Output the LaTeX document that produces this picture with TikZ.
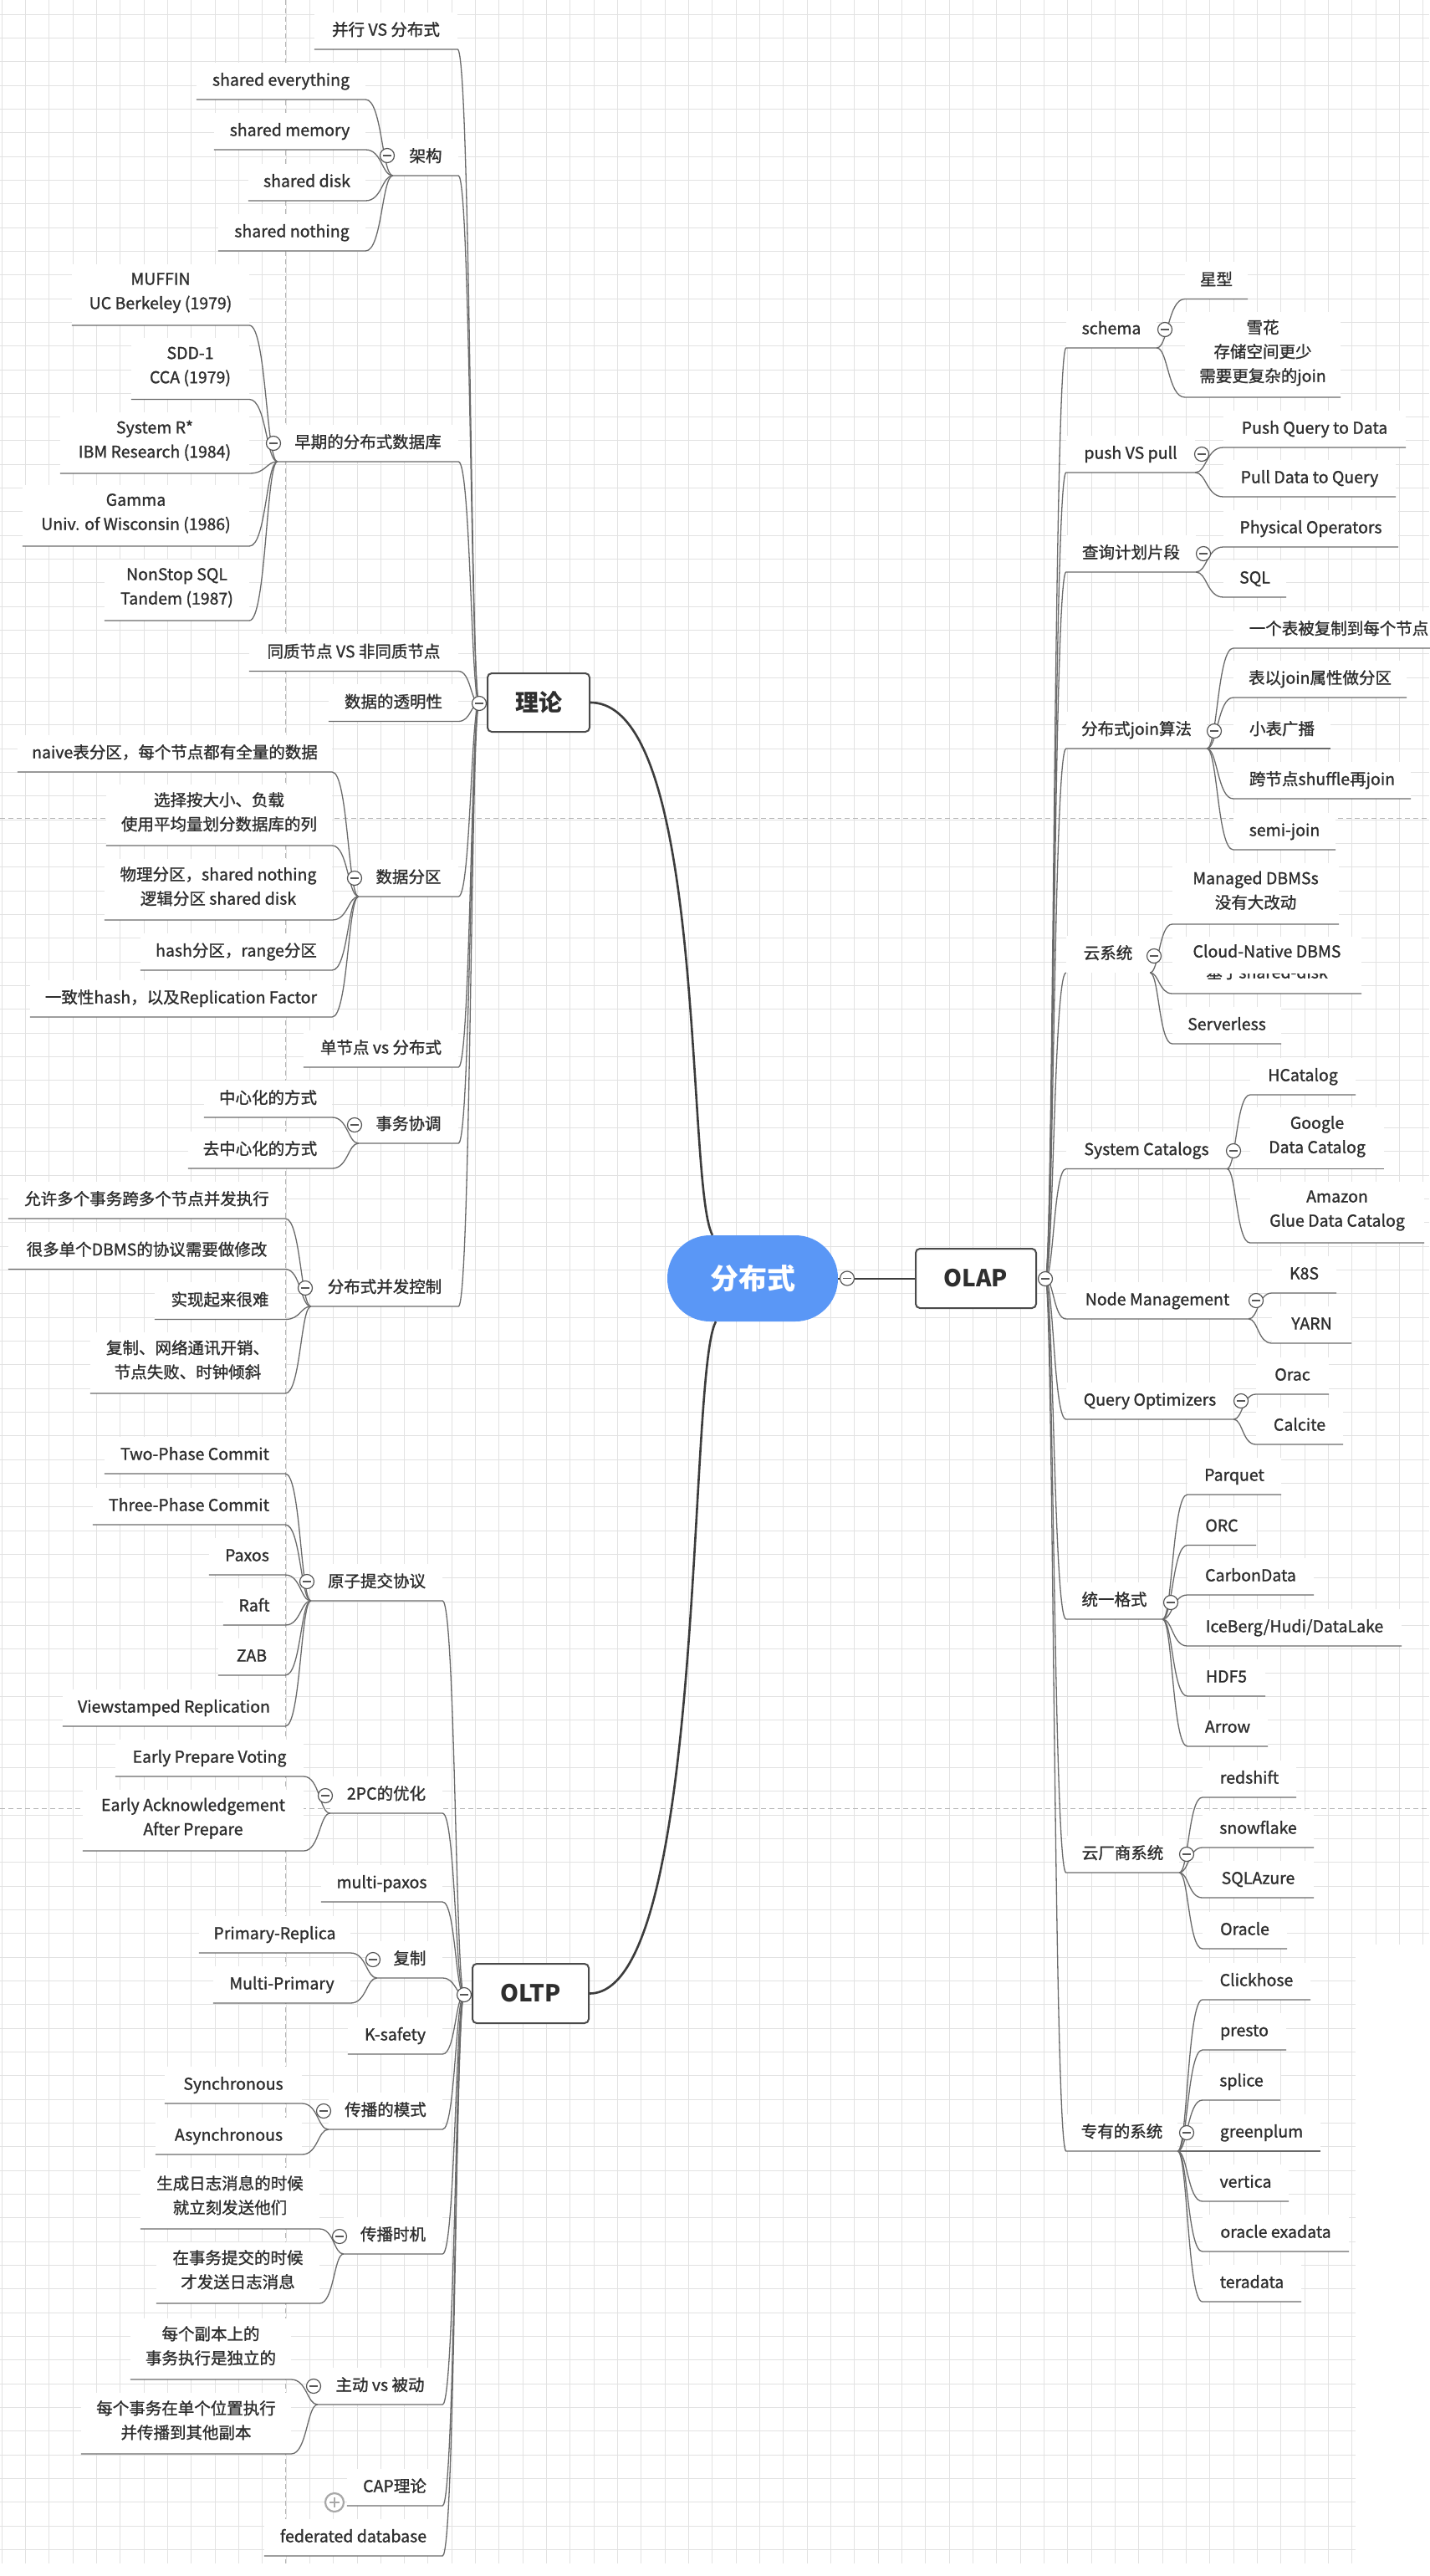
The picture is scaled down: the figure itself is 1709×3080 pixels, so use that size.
\documentclass[tikz,border=0pt]{standalone}
\usepackage{fontspec}
\setmainfont{Noto Sans CJK SC}
\newfontfamily\nodeface{Noto Sans CJK SC}[FakeBold=1.2]
\usetikzlibrary{calc}
\definecolor{txt}{HTML}{2E2E2E}
\definecolor{conncol}{HTML}{6A6A6A}
\definecolor{maincol}{HTML}{3C3C3C}
\definecolor{boxcol}{HTML}{4A4A4A}
\definecolor{gridcol}{HTML}{E2E2E2}
\definecolor{dashcol}{HTML}{B4B4B4}
\definecolor{rootblue}{HTML}{5A97F6}
\definecolor{circcol}{HTML}{555555}
\definecolor{pluscol}{HTML}{A8A8A8}
\newcommand\nfont{\nodeface\fontsize{19.5}{29}\selectfont}
\tikzset{
  gridline/.style={draw=gridcol, line width=0.9pt},
  pagedash/.style={draw=dashcol, line width=0.9pt, dash pattern=on 6pt off 4pt},
  nd/.style={fill=white, inner xsep=0pt, inner ysep=0pt, anchor=south, align=center, font=\nfont, text=txt, execute at begin node=\strut, execute at end node=\strut},
  h1/.style={minimum height=44pt},
  h2/.style={minimum height=73pt},
  h3/.style={minimum height=102pt},
  conn/.style={draw=conncol, line width=1.3pt},
  mainconn/.style={draw=maincol, line width=2.6pt},
  mainbox/.style={draw=boxcol, line width=2pt, rounded corners=5pt, fill=white, text=txt, inner sep=0pt, font=\bfseries\fontsize{28}{34}\selectfont},
  rootnode/.style={fill=rootblue, rounded corners=51pt, minimum width=204pt, minimum height=103pt, inner sep=0pt, text=white, font=\bfseries\fontsize{34}{40}\selectfont},
  mc/.style={circle, draw=circcol, fill=white, line width=1.2pt, minimum size=17pt, inner sep=0pt, path picture={\draw[draw=circcol, line width=1.2pt] ([xshift=-5pt]path picture bounding box.center) -- ([xshift=5pt]path picture bounding box.center);}},
  pc/.style={circle, draw=pluscol, fill=white, line width=2.2pt, minimum size=22pt, inner sep=0pt, path picture={\draw[draw=pluscol, line width=2.2pt] ([xshift=-6pt]path picture bounding box.center) -- ([xshift=6pt]path picture bounding box.center) ([yshift=-6pt]path picture bounding box.center) -- ([yshift=6pt]path picture bounding box.center);}},
}
\newcommand\mmnode[6][h1]{\node[nd,#1,minimum width={(#4)-(#3)}] (#2) at ({((#3)+(#4))/2},#5) {#6};}
\newcommand\lconn[2]{\draw[conn] let \p1=(#1), \p2=(#2.south east) in (\p1) .. controls ({\x1+0.4*(\x2-\x1)},\y1) and ({\x1+0.4*(\x2-\x1)},\y2) .. (\p2) -- (#2.south west);}
\newcommand\rconn[2]{\draw[conn] let \p1=(#1), \p2=(#2.south west) in (\p1) .. controls ({\x1+0.4*(\x2-\x1)},\y1) and ({\x1+0.4*(\x2-\x1)},\y2) .. (\p2) -- (#2.south east);}
\newcommand\rconnN[2]{\draw[conn] let \p1=(#1), \p2=(#2.south west) in (\p1) .. controls ({\x1+0.4*(\x2-\x1)},\y1) and ({\x1+0.4*(\x2-\x1)},\y2) .. (\p2);}
\begin{document}
\begin{tikzpicture}[x=1pt,y=-1pt]
\fill[white] (0,0) rectangle (1709,3080);
\useasboundingbox (0,0) rectangle (1709,3080);
% grid
\foreach \i in {0,...,57} {\draw[gridline] ({2+28.33*\i},0) -- ({2+28.33*\i},3065);}
\foreach \i in {58,59,60} {\draw[gridline] ({2+28.33*\i},0) -- ({2+28.33*\i},2325);}
\foreach \j in {0,...,81} {\draw[gridline] (0,{17+28.33*\j}) -- (1709,{17+28.33*\j});}
\foreach \j in {82,...,107} {\draw[gridline] (0,{17+28.33*\j}) -- (1621,{17+28.33*\j});}
\draw[pagedash] (341,0) -- (341,3065);
\draw[pagedash] (0,978) -- (1709,978);
\draw[pagedash] (0,2162) -- (1709,2162);

% main nodes
\node[rootnode] (root) at (900,1528.5) {分布式};
\node[mainbox, minimum width=122pt, minimum height=70pt] (theory) at (644,840) {理论};
\node[mainbox, minimum width=144pt, minimum height=71pt] (olap) at (1167,1528.5) {OLAP};
\node[mainbox, minimum width=139pt, minimum height=71pt] (oltp) at (634.5,2383.5) {OLTP};
\coordinate (hT) at (573,841);
\coordinate (hO) at (555,2385);
\coordinate (hA) at (1250,1529);
\coordinate (hR) at (1013,1528.5);

% theory branch
\mmnode{t1}{376}{547}{59}{并行 VS 分布式}
\mmnode{t2}{470}{548}{210}{架构}
\mmnode{t2a}{235}{437}{119}{shared everything}
\mmnode{t2b}{256}{437}{179}{shared memory}
\mmnode{t2c}{297}{437}{240}{shared disk}
\mmnode{t2d}{261}{437}{300}{shared nothing}
\mmnode{t3}{332}{548}{552}{早期的分布式数据库}
\mmnode[h2]{t3a}{86}{298}{389}{MUFFIN\\UC Berkeley (1979)}
\mmnode[h2]{t3b}{157}{298}{477.5}{SDD-1\\CCA (1979)}
\mmnode[h2]{t3c}{72}{298}{566}{System R*\\IBM Research (1984)}
\mmnode[h2]{t3d}{27}{298}{653}{Gamma\\Univ. of Wisconsin (1986)}
\mmnode[h2]{t3e}{125}{298}{742}{NonStop SQL\\Tandem (1987)}
\mmnode{t4}{298}{548}{802.5}{同质节点 VS 非同质节点}
\mmnode{t5}{393}{548}{862.5}{数据的透明性}
\mmnode{t6}{429}{548}{1072}{数据分区}
\mmnode{t6a}{21}{397}{923}{naive表分区，每个节点都有全量的数据}
\mmnode[h2]{t6b}{127}{397}{1011}{选择按大小、负载\\使用平均量划分数据库的列}
\mmnode[h2]{t6c}{125}{397}{1100}{物理分区，shared nothing\\逻辑分区 shared disk}
\mmnode{t6d}{168}{397}{1160}{hash分区，range分区}
\mmnode{t6e}{36}{397}{1216}{一致性hash，以及Replication Factor}
\mmnode{t7}{363}{548}{1276}{单节点 vs 分布式}
\mmnode{t8}{429}{548}{1367}{事务协调}
\mmnode{t8a}{244}{397}{1336}{中心化的方式}
\mmnode{t8b}{225}{397}{1397}{去中心化的方式}
\mmnode{t9}{372}{548}{1562}{分布式并发控制}
\mmnode{t9a}{10}{341}{1457}{允许多个事务跨多个节点并发执行}
\mmnode{t9b}{10}{341}{1517.5}{很多单个DBMS的协议需要做修改}
\mmnode{t9c}{185}{341}{1577.5}{实现起来很难}
\mmnode[h2]{t9d}{108}{341}{1666}{复制、网络通讯开销、\\节点失败、时钟倾斜}

% OLTP branch
\mmnode{o1}{372}{529}{1914}{原子提交协议}
\mmnode{o1a}{125}{341}{1762}{Two-Phase Commit}
\mmnode{o1b}{111}{341}{1823}{Three-Phase Commit}
\mmnode{o1c}{250}{341}{1883}{Paxos}
\mmnode{o1d}{267}{341}{1943}{Raft}
\mmnode{o1e}{261}{341}{2003}{ZAB}
\mmnode{o1f}{75}{341}{2064}{Viewstamped Replication}
\mmnode{o2}{395}{529}{2168}{2PC的优化}
\mmnode{o2a}{138}{363}{2124}{Early Prepare Voting}
\mmnode[h2]{o2b}{99}{363}{2213}{Early Acknowledgement\\After Prepare}
\mmnode{o3}{384}{529}{2274}{multi-paxos}
\mmnode{o4}{451}{529}{2365}{复制}
\mmnode{o4a}{238}{419}{2335}{Primary-Replica}
\mmnode{o4b}{255}{419}{2395}{Multi-Primary}
\mmnode{o5}{416}{529}{2456}{K-safety}
\mmnode{o6}{393}{529}{2546}{传播的模式}
\mmnode{o6a}{197}{361}{2515}{Synchronous}
\mmnode{o6b}{186}{361}{2576}{Asynchronous}
\mmnode{o7}{411}{529}{2695}{传播时机}
\mmnode[h2]{o7a}{168}{382}{2665}{生成日志消息的时候\\就立刻发送他们}
\mmnode[h2]{o7b}{187}{382}{2754}{在事务提交的时候\\才发送日志消息}
\mmnode{o8}{380}{529}{2875}{主动 vs 被动}
\mmnode[h2]{o8a}{156}{348}{2845}{每个副本上的\\事务执行是独立的}
\mmnode[h2]{o8b}{97}{348}{2934}{每个事务在单个位置执行\\并传播到其他副本}
\mmnode{o9}{415}{529}{2996}{CAP理论}
\mmnode{o10}{316}{529}{3056}{federated database}

% OLAP branch
\mmnode{a1}{1275}{1383}{416}{schema}
\mmnode{a1a}{1417}{1492}{357.5}{星型}
\mmnode[h3]{a1b}{1417}{1603}{475}{雪花\\存储空间更少\\需要更复杂的join}
\mmnode{a2}{1275}{1429}{565}{push VS pull}
\mmnode{a2a}{1463}{1681}{535}{Push Query to Data}
\mmnode{a2b}{1463}{1669}{594}{Pull Data to Query}
\mmnode{a3}{1275}{1430}{684}{查询计划片段}
\mmnode{a3a}{1463}{1672}{654}{Physical Operators}
\mmnode{a3b}{1463}{1538}{714}{SQL}
\mmnode{a4}{1275}{1443}{895}{分布式join算法}
\mmnode{a4a}{1475}{1727}{775}{一个表被复制到每个节点}
\mmnode{a4b}{1475}{1682}{834}{表以join属性做分区}
\mmnode{a4c}{1475}{1591}{895}{小表广播}
\mmnode{a4d}{1475}{1687}{955}{跨节点shuffle再join}
\mmnode{a4e}{1475}{1597}{1016}{semi-join}
\mmnode{a5}{1275}{1375}{1163}{云系统}
\mmnode[h2]{a5a}{1402}{1601}{1105}{Managed DBMSs\\没有大改动}
\node[nd, minimum height=68pt, minimum width=226pt] (a5b) at (1515,1188) {Cloud-Native DBMS\\[-4pt]基于shared-disk};
\fill[white] (1438,1152) rectangle (1606,1163.5);
\mmnode{a5c}{1402}{1532}{1248}{Serverless}
\mmnode{a6}{1275}{1467}{1397.5}{System Catalogs}
\mmnode{a6a}{1495}{1621}{1309}{HCatalog}
\mmnode[h2]{a6b}{1495}{1655}{1397.5}{Google\\Data Catalog}
\mmnode[h2]{a6c}{1495}{1703}{1486}{Amazon\\Glue Data Catalog}
\mmnode{a7}{1275}{1493}{1577}{Node Management}
\mmnode{a7a}{1521}{1598}{1546}{K8S}
\mmnode{a7b}{1521}{1616}{1606}{YARN}
\mmnode{a8}{1275}{1475}{1697}{Query Optimizers}
\mmnode{a8a}{1502}{1589}{1667}{Orac}
\mmnode{a8b}{1502}{1606}{1727}{Calcite}
\mmnode{a9}{1275}{1390}{1936}{统一格式}
\mmnode{a9a}{1420}{1532}{1787}{Parquet}
\mmnode{a9b}{1420}{1502}{1847.5}{ORC}
\mmnode{a9c}{1420}{1571}{1907}{CarbonData}
\mmnode{a9d}{1420}{1676}{1968}{IceBerg/Hudi/DataLake}
\mmnode{a9e}{1420}{1513}{2028}{HDF5}
\mmnode{a9f}{1420}{1516}{2088}{Arrow}
\mmnode{a10}{1275}{1410}{2239}{云厂商系统}
\mmnode{a10a}{1438}{1550}{2149}{redshift}
\mmnode{a10b}{1438}{1571}{2209}{snowflake}
\mmnode{a10c}{1438}{1571}{2269}{SQLAzure}
\mmnode{a10d}{1438}{1539}{2330}{Oracle}
\mmnode{a11}{1275}{1408}{2572}{专有的系统}
\mmnode{a11a}{1438}{1567}{2391}{Clickhose}
\mmnode{a11b}{1438}{1538}{2451}{presto}
\mmnode{a11c}{1438}{1531}{2511}{splice}
\mmnode{a11d}{1438}{1579}{2572}{greenplum}
\mmnode{a11e}{1438}{1541}{2632}{vertica}
\mmnode{a11f}{1438}{1613}{2692}{oracle exadata}
\mmnode{a11g}{1438}{1556}{2752}{teradata}

% connectors: theory
\foreach \nm in {t1,t2,t3,t4,t5,t6,t7,t8,t9} {\lconn{hT}{\nm}}
\foreach \nm in {t2a,t2b,t2c,t2d} {\lconn{t2.south west}{\nm}}
\foreach \nm in {t3a,t3b,t3c,t3d,t3e} {\lconn{t3.south west}{\nm}}
\foreach \nm in {t6a,t6b,t6c,t6d,t6e} {\lconn{t6.south west}{\nm}}
\foreach \nm in {t8a,t8b} {\lconn{t8.south west}{\nm}}
\foreach \nm in {t9a,t9b,t9c,t9d} {\lconn{t9.south west}{\nm}}
% connectors: OLTP
\foreach \nm in {o1,o2,o3,o4,o5,o6,o7,o8,o9,o10} {\lconn{hO}{\nm}}
\foreach \nm in {o1a,o1b,o1c,o1d,o1e,o1f} {\lconn{o1.south west}{\nm}}
\foreach \nm in {o2a,o2b} {\lconn{o2.south west}{\nm}}
\foreach \nm in {o4a,o4b} {\lconn{o4.south west}{\nm}}
\foreach \nm in {o6a,o6b} {\lconn{o6.south west}{\nm}}
\foreach \nm in {o7a,o7b} {\lconn{o7.south west}{\nm}}
\foreach \nm in {o8a,o8b} {\lconn{o8.south west}{\nm}}
% connectors: OLAP
\foreach \nm in {a1,a2,a3,a4,a6,a7,a8,a9,a10,a11} {\rconn{hA}{\nm}}
\rconnN{hA}{a5}
\foreach \nm in {a1a,a1b} {\rconn{a1.south east}{\nm}}
\foreach \nm in {a2a,a2b} {\rconn{a2.south east}{\nm}}
\foreach \nm in {a3a,a3b} {\rconn{a3.south east}{\nm}}
\foreach \nm in {a4a,a4b,a4c,a4d,a4e} {\rconn{a4.south east}{\nm}}
\foreach \nm in {a5a,a5b,a5c} {\rconn{a5.south east}{\nm}}
\foreach \nm in {a6a,a6b,a6c} {\rconn{a6.south east}{\nm}}
\foreach \nm in {a7a,a7b} {\rconn{a7.south east}{\nm}}
\foreach \nm in {a8a,a8b} {\rconn{a8.south east}{\nm}}
\foreach \nm in {a9a,a9b,a9c,a9d,a9e,a9f} {\rconn{a9.south east}{\nm}}
\foreach \nm in {a10a,a10b,a10c,a10d} {\rconn{a10.south east}{\nm}}
\foreach \nm in {a11a,a11b,a11c,a11d,a11e,a11f,a11g} {\rconn{a11.south east}{\nm}}

% main connectors
\draw[mainconn] (theory.east) .. controls +(140,0) and +(-32,-57) .. ([xshift=-48pt]root.north);
\draw[mainconn] (oltp.east) .. controls +(140,0) and +(-34,60) .. ([xshift=-44pt]root.south);
\draw[draw=maincol, line width=2pt] (root.east) -- (olap.west);

% collapse circles
\node[mc] (cT) at (hT) {};
\node[mc] (cO) at (hO) {};
\node[mc] (cA) at (hA) {};
\node[mc] (cR) at (hR) {};
\node[mc] (c-t2) at (463,186) {};
\node[mc] (c-t3) at (327,530) {};
\node[mc] (c-t6) at (424,1050) {};
\node[mc] (c-t8) at (424,1345) {};
\node[mc] (c-t9) at (365,1540) {};
\node[mc] (c-o1) at (367,1891) {};
\node[mc] (c-o2) at (389,2147) {};
\node[mc] (c-o4) at (446,2343) {};
\node[mc] (c-o6) at (387,2524) {};
\node[mc] (c-o7) at (406,2674) {};
\node[mc] (c-o8) at (375,2853) {};
\node[pc] (c-o9) at (400,2992) {};
\node[mc] (c-a1) at (1393,394) {};
\node[mc] (c-a2) at (1437,543) {};
\node[mc] (c-a3) at (1439,662) {};
\node[mc] (c-a4) at (1452,874) {};
\node[mc] (c-a5) at (1380,1143) {};
\node[mc] (c-a6) at (1475,1376) {};
\node[mc] (c-a7) at (1502,1555) {};
\node[mc] (c-a8) at (1484,1675) {};
\node[mc] (c-a9) at (1400,1916) {};
\node[mc] (c-a10) at (1419,2217) {};
\node[mc] (c-a11) at (1419,2550) {};
\end{tikzpicture}
\end{document}
